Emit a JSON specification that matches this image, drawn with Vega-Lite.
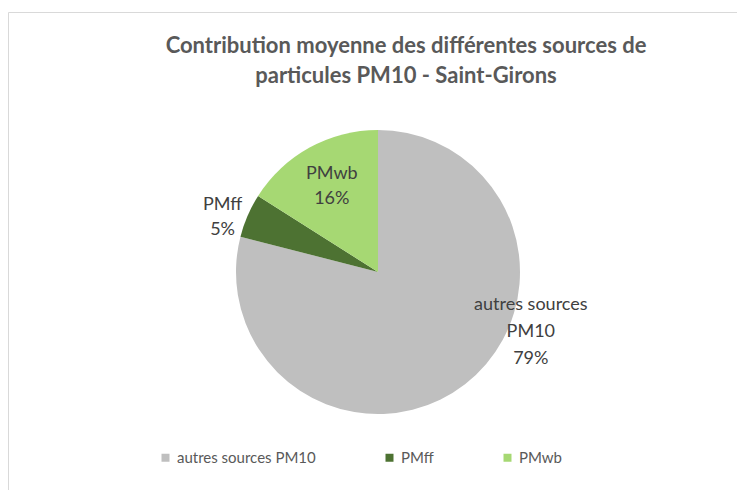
{
  "$schema": "https://vega.github.io/schema/vega-lite/v6.json",
  "autosize": "none",
  "padding": {"left": 8, "top": 12, "right": 0, "bottom": 0},
  "width": 740,
  "height": 520,
  "background": "white",
  "view": {"stroke": "#d9d9d9", "strokeWidth": 1, "fill": "white"},
  "config": {
    "view": {"stroke": "#d9d9d9", "strokeWidth": 1},
    "font": "Lato"
  },
  "title": {
    "text": ["Contribution moyenne des différentes sources de", "particules PM10 - Saint-Girons"],
    "anchor": "middle",
    "frame": "group",
    "orient": "top",
    "offset": 0,
    "baseline": "top",
    "dx": 28,
    "dy": 76,
    "font": "Lato",
    "fontSize": 22,
    "fontWeight": "bold",
    "color": "#595959",
    "lineHeight": 30
  },
  "data": {
    "values": [
      {"source": "autres sources PM10", "value": 79, "label": "autres sources\nPM10\n79%"},
      {"source": "PMff", "value": 5, "label": "PMff\n5%"},
      {"source": "PMwb", "value": 16, "label": "PMwb\n16%"}
    ]
  },
  "encoding": {
    "theta": {"field": "value", "type": "quantitative", "stack": true},
    "order": {"field": "order", "type": "quantitative"}
  },
  "layer": [
    {
      "mark": {"type": "arc", "outerRadius": 142, "stroke": null},
      "encoding": {
        "color": {
          "field": "source",
          "type": "nominal",
          "sort": ["autres sources PM10", "PMff", "PMwb"],
          "scale": {"domain": ["autres sources PM10", "PMff", "PMwb"], "range": ["#bfbfbf", "#4d7232", "#a6d873"]},
          "legend": {
            "title": null,
            "orient": "none",
            "legendX": 150,
            "legendY": 438,
            "direction": "horizontal",
            "symbolType": "square",
            "symbolSize": 64,
            "symbolStrokeWidth": 0,
            "labelFont": "Lato",
            "labelFontSize": 15,
            "labelColor": "#595959",
            "labelOffset": 4,
            "columnPadding": 66,
            "padding": 0
          }
        }
      }
    },
    {
      "mark": {"type": "text", "radius": 140, "dx": 67, "dy": -73, "align": "center", "baseline": "alphabetic", "fontSize": 18, "color": "#404040", "lineBreak": "\n", "lineHeight": 27},
      "encoding": {
        "text": {"condition": {"test": "datum.source === 'autres sources PM10'", "field": "label"}, "value": ""}
      }
    },
    {
      "mark": {"type": "text", "radius": 165, "dx": -4, "dy": 4, "align": "center", "baseline": "alphabetic", "fontSize": 18, "color": "#404040", "lineBreak": "\n", "lineHeight": 25},
      "encoding": {
        "text": {"condition": {"test": "datum.source === 'PMff'", "field": "label"}, "value": ""}
      }
    },
    {
      "mark": {"type": "text", "radius": 100, "dx": 2, "dy": -5, "align": "center", "baseline": "alphabetic", "fontSize": 18, "color": "#404040", "lineBreak": "\n", "lineHeight": 25},
      "encoding": {
        "text": {"condition": {"test": "datum.source === 'PMwb'", "field": "label"}, "value": ""}
      }
    }
  ]
}
